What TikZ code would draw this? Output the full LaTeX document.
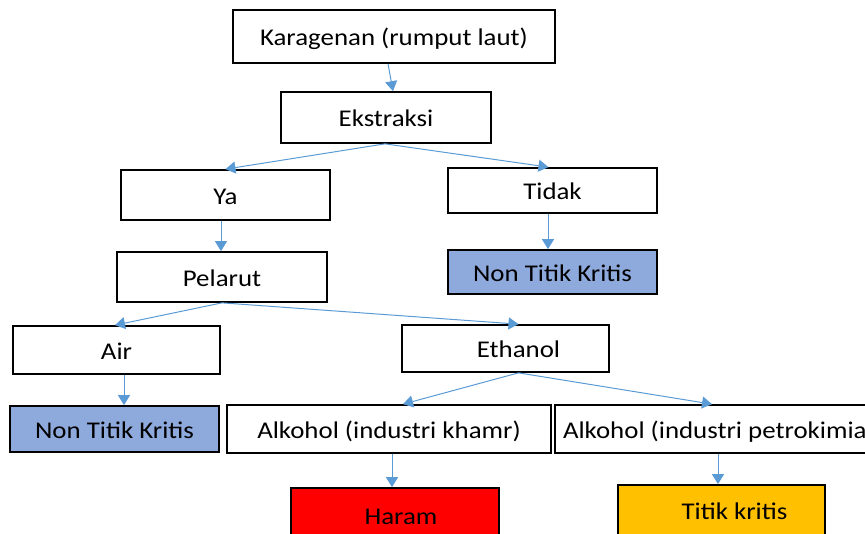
\documentclass[tikz,border=0pt]{standalone}
\usepackage{fontspec}
\setmainfont{Carlito}[FakeStretch=1.12]
\usetikzlibrary{arrows.meta}
\definecolor{arrowblue}{HTML}{5B9BD5}
\definecolor{ntkblue}{HTML}{8EA9DB}
\definecolor{haramred}{HTML}{FF0000}
\definecolor{tkorange}{HTML}{FFC000}
\begin{document}
\begin{tikzpicture}[x=1pt,y=-1pt,
  box/.style={draw=black, line width=1.7pt, inner sep=0pt, anchor=center,
    text height=23.5pt, text depth=5pt,
    font=\fontsize{24}{28}\selectfont},
  arr/.style={draw=arrowblue, line width=1pt, -{Triangle[width=12pt,length=10pt]}}]
\useasboundingbox (0,0) rectangle (865,533);
\clip (0,0) rectangle (865,533);
\node[box, minimum width=322pt, minimum height=53pt] (k) at (394,36.5) {Karagenan (rumput laut)};
\node[box, minimum width=210pt, minimum height=51pt] (e) at (386,117.5) {Ekstraksi};
\node[box, minimum width=209pt, minimum height=50pt] (ya) at (225.5,195) {Ya};
\node[box, minimum width=209pt, minimum height=45pt] (td) at (552.5,190.5) {Tidak};
\node[box, minimum width=210pt, minimum height=50pt] (pl) at (222,277) {Pelarut};
\node[box, minimum width=209pt, minimum height=44pt, fill=ntkblue] (ntka) at (552.5,272) {Non Titik Kritis};
\node[box, minimum width=207pt, minimum height=48pt] (air) at (116.5,350) {Air};
\node[box, minimum width=207pt, minimum height=47pt] (eth) at (505.5,348.5) {\hspace*{26pt}Ethanol};
\node[box, minimum width=209pt, minimum height=46pt, fill=ntkblue] (ntkb) at (114.5,429) {Non Titik Kritis};
\node[box, minimum width=324pt, minimum height=48pt] (ak) at (389,429) {Alkohol (industri khamr)};
\node[box, minimum height=48pt, inner xsep=8pt] (ap) at (722,429) {\makebox[318pt][l]{Alkohol (industri petrokimia)}};
\node[box, minimum width=208pt, minimum height=54pt, fill=haramred] (hr) at (395,515) {\hspace*{12pt}Haram};
\node[box, minimum width=207pt, minimum height=50pt, fill=tkorange] (tk) at (721.5,510) {\hspace*{26pt}Titik kritis};
\draw[arr] ([xshift=-6pt]k.south) -- ([xshift=7pt]e.north);
\draw[arr] ([xshift=-1pt]e.south) -- (ya.north);
\draw[arr] ([xshift=-1pt]e.south) -- ([xshift=-4pt]td.north);
\draw[arr] ([xshift=-4.5pt]ya.south) -- ([xshift=-1pt]pl.north);
\draw[arr] ([xshift=-4.5pt]td.south) -- ([xshift=-4.5pt]ntka.north);
\draw[arr] (pl.south) -- ([xshift=-1.5pt]air.north);
\draw[arr] (pl.south) -- ([xshift=13pt]eth.north);
\draw[arr] ([xshift=7.5pt]air.south) -- ([xshift=9.5pt]ntkb.north);
\draw[arr] ([xshift=13pt]eth.south) -- ([xshift=14pt]ak.north);
\draw[arr] ([xshift=13pt]eth.south) -- ([xshift=-10pt]ap.north);
\draw[arr] ([xshift=3pt]ak.south) -- ([xshift=-3pt]hr.north);
\draw[arr] ([xshift=-4pt]ap.south) -- ([xshift=-3.5pt]tk.north);
\end{tikzpicture}
\end{document}
